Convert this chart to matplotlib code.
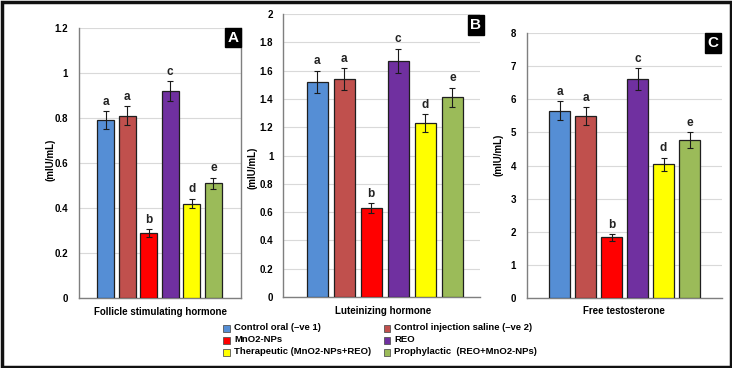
import matplotlib
matplotlib.use("Agg")
import matplotlib.pyplot as plt
from matplotlib.patches import Rectangle

plt.rcParams['font.family'] = ['Liberation Sans', 'DejaVu Sans']
plt.rcParams['font.weight'] = 'bold'

groups = ["Control oral (\u2013ve 1)", "Control injection saline (\u2013ve 2)", "MnO2-NPs",
          "REO", "Therapeutic (MnO2-NPs+REO)", "Prophylactic  (REO+MnO2-NPs)"]
colors = ["#558ED5", "#C0504D", "#FF0000", "#7030A0", "#FFFF00", "#9BBB59"]
letters = ["a", "a", "b", "c", "d", "e"]

fsh = [0.79, 0.81, 0.29, 0.92, 0.42, 0.51]
fsh_err = [0.04, 0.042, 0.017, 0.045, 0.022, 0.025]
lh = [1.52, 1.54, 0.63, 1.67, 1.23, 1.41]
lh_err = [0.078, 0.078, 0.035, 0.085, 0.061, 0.068]
ft = [5.66, 5.50, 1.83, 6.62, 4.04, 4.77]
ft_err = [0.29, 0.27, 0.11, 0.33, 0.20, 0.23]

titles = ["Follicle stimulating hormone", "Luteinizing hormone", "Free testosterone"]
panel_ids = ["A", "B", "C"]
yticks = [[0, 0.2, 0.4, 0.6, 0.8, 1, 1.2],
          [0, 0.2, 0.4, 0.6, 0.8, 1, 1.2, 1.4, 1.6, 1.8, 2],
          [0, 1, 2, 3, 4, 5, 6, 7, 8]]
ytick_labels = [["0", "0.2", "0.4", "0.6", "0.8", "1", "1.2"],
                ["0", "0.2", "0.4", "0.6", "0.8", "1", "1.2", "1.4", "1.6", "1.8", "2"],
                ["0", "1", "2", "3", "4", "5", "6", "7", "8"]]
ylabel = "(mIU/mL)"

W, H = 732, 368
fig = plt.figure(figsize=(W / 100, H / 100), dpi=100)

def px_axes(left, right, top, bottom):
    return fig.add_axes([left / W, (H - bottom) / H, (right - left) / W, (bottom - top) / H])

geo = [dict(l=79, r=241, t=28, b=298, xlim=(-1.23, 6.28), w=0.79, lab=(233, 37.5), yl=(50, 160), xl=(160, 312), pad=8),
       dict(l=283, r=480, t=14, b=297, xlim=(-1.26, 6.02), w=0.78, lab=(476, 25), yl=(252, 168), xl=(383, 311), pad=7),
       dict(l=527, r=722, t=33, b=298, xlim=(-1.25, 6.25), w=0.80, lab=(713, 43), yl=(498, 155), xl=(624, 311), pad=8)]
datas = [(fsh, fsh_err), (lh, lh_err), (ft, ft_err)]

for i, g in enumerate(geo):
    ax = px_axes(g["l"], g["r"], g["t"], g["b"])
    vals, errs = datas[i]
    x = list(range(len(vals)))
    ax.bar(x, vals, width=g["w"], color=colors, edgecolor="#1f1f1f", linewidth=0.9, zorder=3)
    ax.errorbar(x, vals, yerr=errs, fmt="none", ecolor="#1a1a1a", elinewidth=0.8,
                capsize=2, capthick=0.8, zorder=4)
    top = yticks[i][-1]
    for xi, v, e, L in zip(x, vals, errs, letters):
        ax.text(xi, v + e + top * 0.012, L, ha="center", va="bottom", fontsize=8.5,
                fontweight="bold", color="#222222")
    ax.set_xlim(*g["xlim"])
    ax.set_ylim(0, top)
    ax.set_yticks(yticks[i])
    ax.set_yticklabels(ytick_labels[i], fontsize=7, fontweight="bold")
    ax.set_xticks([])
    ax.tick_params(axis="y", length=0, pad=g["pad"])
    ax.grid(axis="y", color="#D9D9D9", linewidth=0.8, zorder=0)
    ax.set_axisbelow(True)
    for s in ["top", "right"]:
        ax.spines[s].set_visible(False)
    for s in ["left", "bottom"]:
        ax.spines[s].set_color("#7f7f7f")
        ax.spines[s].set_linewidth(1.0)
    if i == 0:
        ax.spines["right"].set_visible(True)
        ax.spines["right"].set_color("#7f7f7f")
        ax.spines["right"].set_linewidth(1.0)
    fig.text(g["yl"][0] / W, 1 - g["yl"][1] / H, ylabel, rotation=90, ha="center", va="center",
             fontsize=7, fontweight="bold")
    fig.text(g["xl"][0] / W, 1 - g["xl"][1] / H, titles[i], ha="center", va="center",
             fontsize=7, fontweight="bold")
    fig.text(g["lab"][0] / W, 1 - g["lab"][1] / H, panel_ids[i], ha="center", va="center",
             fontsize=11, fontweight="bold", color="white",
             bbox=dict(boxstyle="square,pad=0.18", facecolor="black", edgecolor="black"))

col_x = [227, 387]
row_y = [328, 340, 352]
for k, (name, c) in enumerate(zip(groups, colors)):
    cx = col_x[k % 2]
    cy = row_y[k // 2]
    fig.patches.append(Rectangle(((cx - 3.5) / W, 1 - (cy + 3.5) / H), 7 / W, 7 / H,
                                 transform=fig.transFigure, facecolor=c, edgecolor="#555555",
                                 linewidth=0.6))
    fig.text((cx + 7) / W, 1 - cy / H, name, ha="left", va="center", fontsize=6.8, fontweight="bold")

fig.patches.append(Rectangle((1.5 / W, 1.5 / H), (W - 3) / W, (H - 3) / H, transform=fig.transFigure,
                             facecolor="none", edgecolor="#111111", linewidth=2.5))

fig.savefig("out.png", dpi=100)
